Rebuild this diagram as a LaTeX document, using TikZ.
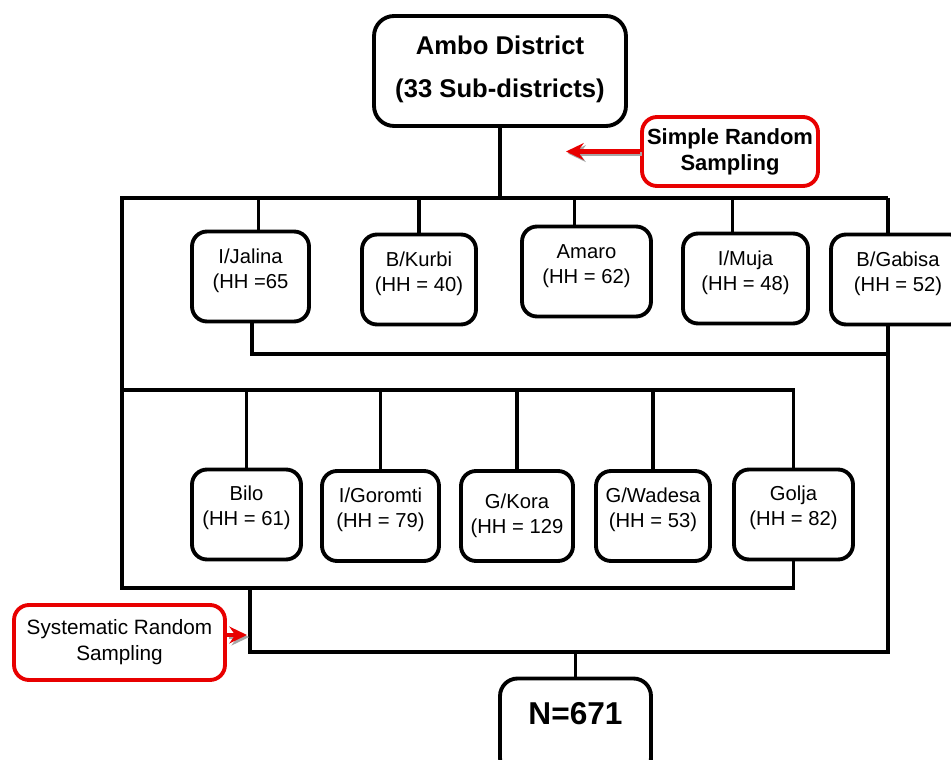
\documentclass[tikz,border=0pt]{standalone}
\usepackage{fontspec}
\setmainfont{Liberation Sans}
\usetikzlibrary{arrows.meta}
\definecolor{samplered}{RGB}{232, 0, 0}

\tikzset{
  site/.style={draw, line width=2.2pt, rounded corners=0.3cm, align=center,
    inner sep=0pt, minimum height=1.8cm, font=\fontsize{11.5}{14.2}\selectfont},
  district/.style={draw, line width=2.2pt, rounded corners=0.4cm, align=center,
    inner sep=0pt, font=\bfseries\fontsize{14.6}{24.4}\selectfont},
  method/.style={draw=samplered, line width=2.2pt, rounded corners=0.3cm, align=center,
    inner sep=0pt},
  link/.style={line width=2.1pt},
  pointer/.style={samplered, line width=2.3pt, -{Stealth[length=10pt, width=9.5pt]}},
  shade/.style={pointer, black!35, transform canvas={shift={(1.2pt,-1.2pt)}}}
}

\begin{document}
\begin{tikzpicture}[x=0.02cm, y=-0.02cm]
  \useasboundingbox (0,0) rectangle (951,760);
  \clip (0,0) rectangle (951,760);

  % district and total
  \node[district, minimum width=5.04cm, minimum height=2.2cm] (amb) at (500,71) {Ambo District\\(33 Sub-districts)\\[-19.3pt]};
  \node[district, rounded corners=0.35cm, minimum width=3.02cm, minimum height=1.94cm,
    font=\bfseries\fontsize{18}{20}\selectfont] (num) at (575.5,727) {N=671\\[-4.7pt]};

  % sampling methods
  \node[method, minimum width=3.52cm, minimum height=1.38cm,
    font=\bfseries\fontsize{12.5}{14.8}\selectfont] (srs) at (730,151.5) {Simple Random\\Sampling};
  \node[method, minimum width=4.22cm, minimum height=1.5cm,
    font=\fontsize{11.8}{14.8}\selectfont] (sys) at (119.5,642.5) {Systematic Random\\Sampling};

  % first group of sub-districts
  \node[site, minimum width=2.34cm] (jal) at (250.5,276.5) {I/Jalina\\(HH =65\\[-5.2pt]};
  \node[site, minimum width=2.28cm] (kur) at (419,279.5) {B/Kurbi\\(HH = 40)\\[-5.2pt]};
  \node[site, minimum width=2.58cm] (ama) at (586.5,271.5) {Amaro\\(HH = 62)\\[-5.2pt]};
  \node[site, minimum width=2.5cm] (muj) at (745.5,278.5) {I/Muja\\(HH = 48)\\[-5.2pt]};
  \node[site, minimum width=2.68cm] (gab) at (898,279.5) {B/Gabisa\\(HH = 52)\\[-5.2pt]};

  % second group of sub-districts
  \node[site, minimum width=2.18cm] (bil) at (246.5,514.5) {Bilo\\(HH = 61)\\[-4.6pt]};
  \node[site, minimum width=2.34cm] (gor) at (380.5,516) {I/Goromti\\(HH = 79)\\[-4.6pt]};
  \node[site, minimum width=2.24cm] (kor) at (517,516) {G/Kora\\(HH = 129};
  \node[site, minimum width=2.28cm] (wad) at (653,516) {G/Wadesa\\(HH = 53)\\[-4.6pt]};
  \node[site, minimum width=2.38cm] (gol) at (793.5,514.5) {Golja\\(HH = 82)\\[-4.6pt]};

  % junctions
  \coordinate (tl) at (122,198);
  \coordinate (tr) at (888,198);
  \coordinate (ml) at (122,390);
  \coordinate (bl) at (122,588);
  \coordinate (jr) at (888,354);
  \coordinate (nr) at (888,652);
  \coordinate (nl) at (250,652);
  \coordinate (srs-tip) at (566,151.5);
  \coordinate (sys-tip) at (247,635);

  % tree
  \draw[link] (amb) -- (amb |- tl);
  \draw[link] (tr) -- (tl) -- (bl) -| (gol);
  \draw[link] (ml) -| (gol);
  \draw[link] (tr) -- (tr |- gab.north);
  \draw[link] ([xshift=4.5pt]jal.north) -- ([xshift=4.5pt]jal.north |- tl);
  \draw[link] (kur) -- (kur |- tl);
  \draw[link] ([xshift=-6.8pt]ama.north) -- ([xshift=-6.8pt]ama.north |- tl);
  \draw[link] ([xshift=-7.4pt]muj.north) -- ([xshift=-7.4pt]muj.north |- tl);
  \draw[link] ([xshift=1pt]jal.south) |- (jr);
  \draw[link] (tr |- gab.south) -- (nr) -- (nl) -- (nl |- bl);
  \foreach \n in {bil,gor,kor,wad}
    \draw[link] (\n) -- (\n |- ml);
  \draw[link] (num) -- (num |- nr);

  % arrows
  \draw[shade] (srs) -- (srs-tip);
  \draw[pointer] (srs) -- (srs-tip);
  \draw[shade] (sys.east |- sys-tip) -- (sys-tip);
  \draw[pointer] (sys.east |- sys-tip) -- (sys-tip);
\end{tikzpicture}
\end{document}
